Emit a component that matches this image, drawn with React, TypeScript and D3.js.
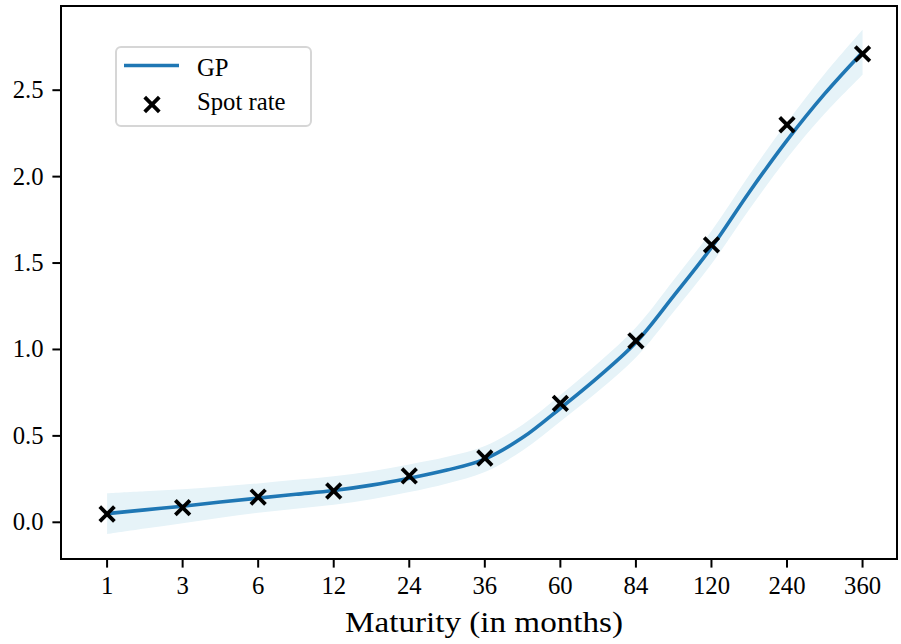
import React from "react";
import * as d3 from "d3";

const maturities = ["1", "3", "6", "12", "24", "36", "60", "84", "120", "240", "360"];
const spotRates = [0.048, 0.085, 0.146, 0.181, 0.268, 0.372, 0.688, 1.05, 1.605, 2.30, 2.71];
// GP posterior at every tick and half-way between ticks (position in tick units)
const gpPos = [0, 0.5, 1, 1.5, 2, 2.5, 3, 3.5, 4, 4.5, 5, 5.5, 6, 6.5, 7, 7.5, 8, 8.5, 9, 9.5, 10];
const gpMean = [0.05, 0.072, 0.093, 0.117, 0.14, 0.162, 0.184, 0.215, 0.255, 0.302, 0.366, 0.49, 0.66, 0.84, 1.04, 1.31, 1.59, 1.91, 2.21, 2.48, 2.72];
const gpHalf = [0.118, 0.108, 0.098, 0.09, 0.085, 0.084, 0.083, 0.081, 0.08, 0.077, 0.075, 0.075, 0.077, 0.082, 0.087, 0.092, 0.096, 0.1, 0.104, 0.115, 0.13];
const yTicks = [0.0, 0.5, 1.0, 1.5, 2.0, 2.5];

const W = 901;
const H = 644;
const left = 61;
const right = 897;
const top = 6;
const bottom = 559;
const font = "'Liberation Serif', 'DejaVu Serif', serif";

export default function App() {
  const x = d3.scaleLinear().domain([-0.61, 10.456]).range([left, right]);
  const y = d3.scaleLinear().domain([0, 2.5]).range([522.3, 90.2]);
  const idx = maturities.map((_, i) => i);
  const gi = gpPos.map((_, i) => i);

  const curve = d3.curveCatmullRom.alpha(0.5);
  const line = d3
    .line<number>()
    .x((i) => x(gpPos[i]))
    .y((i) => y(gpMean[i]))
    .curve(curve);
  const area = d3
    .area<number>()
    .x((i) => x(gpPos[i]))
    .y0((i) => y(gpMean[i] - gpHalf[i]))
    .y1((i) => y(gpMean[i] + gpHalf[i]))
    .curve(curve);

  const cross = (cx: number, cy: number, key: any, s = 7.3) => (
    <g key={key} stroke="#000" strokeWidth={3.8} strokeLinecap="butt">
      <line x1={cx - s} y1={cy - s} x2={cx + s} y2={cy + s} />
      <line x1={cx - s} y1={cy + s} x2={cx + s} y2={cy - s} />
    </g>
  );

  return (
    <svg width={W} height={H} style={{ position: "absolute", left: 0, top: 0 }}>
      <rect width={W} height={H} fill="#fff" />
      <path d={area(gi) || ""} fill="#e6f3f8" />
      <path d={line(gi) || ""} fill="none" stroke="#1f77b4" strokeWidth={3.6} />
      {idx.map((i) => cross(x(i), y(spotRates[i]), i))}
      <rect x={left} y={top} width={right - left} height={bottom - top} fill="none" stroke="#000" strokeWidth={2} />
      {yTicks.map((t) => (
        <g key={t}>
          <line x1={left - 8.6} x2={left} y1={y(t)} y2={y(t)} stroke="#000" strokeWidth={2} />
          <text x={left - 17.5} y={y(t) + 8} textAnchor="end" fontFamily={font} fontSize={24.7} fill="#000">
            {t.toFixed(1)}
          </text>
        </g>
      ))}
      {idx.map((i) => (
        <g key={i}>
          <line x1={x(i)} x2={x(i)} y1={bottom} y2={bottom + 8.6} stroke="#000" strokeWidth={2} />
          <text x={x(i)} y={594} textAnchor="middle" fontFamily={font} fontSize={24.7} fill="#000">
            {maturities[i]}
          </text>
        </g>
      ))}
      <text x={(left + right) / 2 + 5} y={632} textAnchor="middle" fontFamily={font} fontSize={29.6} fill="#000" textLength={278} lengthAdjust="spacingAndGlyphs">
        Maturity (in months)
      </text>
      <rect x={116} y={47} width={195} height={79} rx={5} ry={5} fill="#fff" fillOpacity={0.8} stroke="#d6d6d6" strokeWidth={2} />
      <line x1={124} x2={179} y1={65.5} y2={65.5} stroke="#1f77b4" strokeWidth={3.6} />
      <text x={197} y={76} fontFamily={font} fontSize={24.7} fill="#000">GP</text>
      {cross(152, 104.5, "leg")}
      <text x={197} y={110} fontFamily={font} fontSize={24.7} fill="#000">Spot rate</text>
    </svg>
  );
}
